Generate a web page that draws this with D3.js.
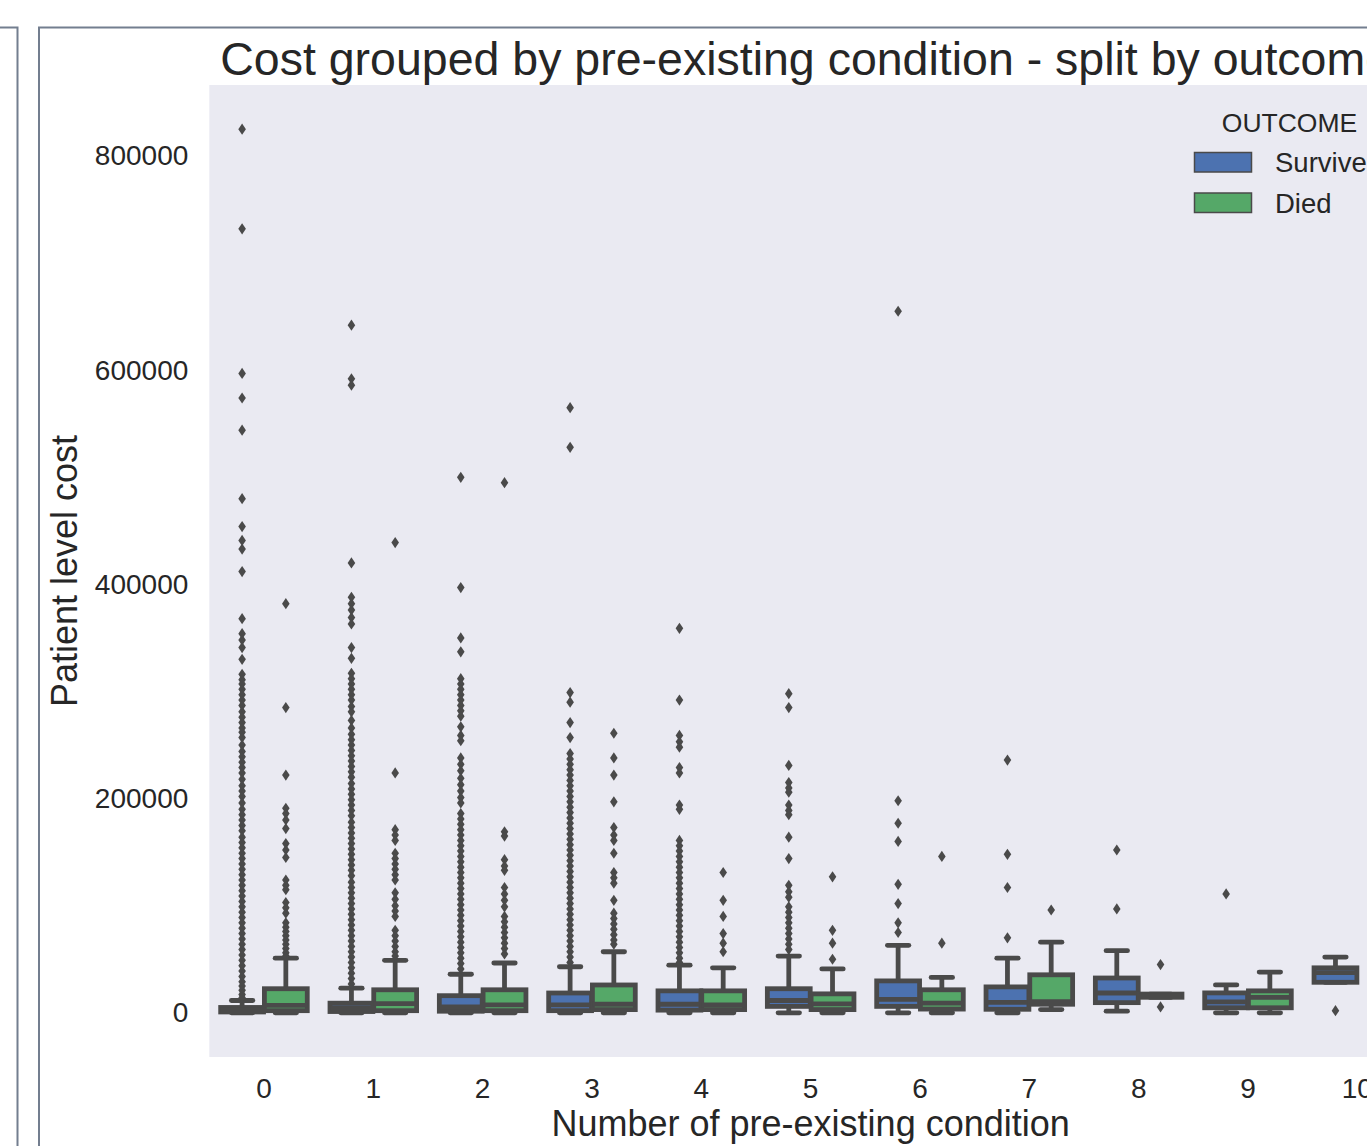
<!DOCTYPE html>
<html>
<head>
<meta charset="utf-8">
<script src="https://cdn.jsdelivr.net/npm/d3@7"></script>
<style>
  html, body { margin: 0; padding: 0; background: #ffffff; overflow: hidden; }
  svg { display: block; font-family: "Liberation Sans", Arial, Helvetica, sans-serif; }
</style>
</head>
<body>
<svg id="chart" width="1367" height="1146"></svg>
<script>
// ---------------- DATA ----------------
const categories = ["0","1","2","3","4","5","6","7","8","9","10"];
const outcomes = ["Survived", "Died"];
const outcomeColors = ["#4C72B0", "#55A868"];
const yTicks = [0, 200000, 400000, 600000, 800000];

const survivedQ1          = [800, 1200, 1500, 2000, 2500, 6000, 6000, 3300, 9500, 4700, 28500];
const survivedMedian      = [2500, 4500, 5500, 7500, 8000, 11500, 12600, 9800, 18500, 10300, 37500];
const survivedQ3          = [5000, 9000, 16000, 18500, 20500, 22500, 29800, 24200, 32500, 18600, 42000];
const survivedWhiskerLow  = [0, 0, 0, 0, 0, 0, 0, 0, 1500, 0, 28500];
const survivedWhiskerHigh = [11500, 23000, 36000, 43000, 44500, 53000, 63000, 51000, 58000, 26000, 52000];

const diedQ1          = [2000, 2000, 2000, 3000, 3000, 3000, 3500, 8000, 14500, 4700, null];
const diedMedian      = [7000, 8500, 7500, 8000, 7500, 8400, 9000, 10500, 16000, 14500, null];
const diedQ3          = [22500, 21500, 21500, 26000, 20500, 17700, 21500, 35500, 17500, 20500, null];
const diedWhiskerLow  = [0, 0, 0, 0, 0, 0, 0, 3000, 14500, 0, null];
const diedWhiskerHigh = [51000, 49000, 46500, 57000, 42000, 41000, 33000, 66000, 17500, 38000, null];

const survivedOutliers = [
  [825000, 732000, 597000, 574000, 544000, 480000, 454000, 441000, 433000, 412000, 368000, 354000, 348000, 341000, 330000,
   316000, 311000, 307000, 302000, 297000, 292000, 287000, 281000, 276000, 271000, 266000, 262000, 257000, 250000, 244000,
   239000, 234000, 229000, 224000, 218000, 212000, 207000, 202000, 196000, 190000, 185000, 180000, 175000, 170000, 164000,
   159000, 154000, 149000, 144000, 139000, 134000, 129000, 124000, 119000, 114000, 109000, 104000, 99000, 94000, 89000,
   84000, 79000, 74000, 69000, 64000, 59000, 54000, 49000, 44000, 39000, 34000, 29000, 25000, 21000, 17000, 14000],
  [642000, 592000, 586000, 420000, 388000, 382000, 376000, 369000, 363000, 341000, 331000, 317000, 312000, 307000, 302000,
   297000, 292000, 286000, 281000, 273000, 266000, 260000, 255000, 250000, 245000, 240000, 235000, 230000, 225000, 220000,
   214000, 209000, 204000, 199000, 194000, 189000, 184000, 178000, 173000, 168000, 163000, 158000, 153000, 148000, 143000,
   138000, 133000, 128000, 122000, 117000, 112000, 107000, 102000, 97000, 92000, 87000, 82000, 77000, 72000, 67000,
   62000, 57000, 52000, 47000, 42000, 37000, 32000, 27000],
  [500000, 397000, 350000, 337000, 312000, 307000, 302000, 297000, 292000, 287000, 282000, 277000, 267000, 259000, 254000,
   238000, 232000, 226000, 219000, 213000, 207000, 201000, 196000, 186000, 181000, 176000, 171000, 166000, 161000, 156000,
   151000, 146000, 141000, 136000, 131000, 126000, 121000, 116000, 111000, 106000, 101000, 96000, 91000, 86000, 81000,
   76000, 71000, 66000, 61000, 56000, 51000, 46000, 41000],
  [565000, 528000, 299000, 290000, 271000, 257000, 242000, 237000, 232000, 227000, 222000, 217000, 212000, 207000, 202000,
   197000, 192000, 187000, 182000, 177000, 172000, 167000, 162000, 157000, 152000, 147000, 142000, 137000, 132000, 127000,
   122000, 117000, 112000, 107000, 102000, 97000, 92000, 87000, 82000, 77000, 72000, 67000, 62000, 57000, 52000, 47000],
  [359000, 292000, 259000, 253000, 248000, 229000, 224000, 194000, 190000, 161000, 156000, 151000, 146000, 141000, 136000,
   131000, 126000, 121000, 116000, 111000, 106000, 101000, 96000, 91000, 86000, 81000, 76000, 71000, 66000, 61000,
   56000, 51000, 47000],
  [298000, 285000, 231000, 215000, 210000, 206000, 194000, 189000, 185000, 164000, 144000, 119000, 113000, 108000, 99000,
   94000, 89000, 84000, 79000, 74000, 69000, 64000, 59000],
  [655000, 198000, 177000, 160000, 120000, 102000, 84000, 75000],
  [236000, 148000, 117000, 70000],
  [152000, 97000],
  [111000],
  [2000]
];

const diedOutliers = [
  [382000, 285000, 222000, 191000, 186000, 180000, 172000, 158000, 152000, 145000, 124000, 119000, 115000, 103000, 98000,
   93000, 84000, 80000, 76000, 72000, 68000, 64000, 60000, 56000, 53000],
  [439000, 224000, 171000, 166000, 161000, 149000, 144000, 139000, 134000, 129000, 124000, 112000, 106000, 100000, 95000,
   90000, 77000, 72000, 67000, 62000, 57000, 53000],
  [495000, 169000, 165000, 143000, 137000, 133000, 117000, 111000, 105000, 99000, 90000, 85000, 80000, 75000, 70000,
   65000, 60000, 55000],
  [261000, 238000, 222000, 197000, 173000, 166000, 161000, 149000, 131000, 126000, 121000, 105000, 93000, 88000, 83000,
   78000, 73000, 68000, 64000],
  [131000, 105000, 90000, 74000, 65000, 57000],
  [127000, 77000, 65000, 50000],
  [146000, 65000],
  [96000],
  [45000, 5500],
  [],
  []
];

// ---------------- LAYOUT ----------------
const plot = { left: 209.3, right: 1412, top: 85, bottom: 1057 };
const lineColor = "#4a4a4a";
const textColor = "#262626";
const lw = 4.8;

const svg = d3.select("#chart");

// page frames
const frameColor = "#737e8f";
svg.append("path")
  .attr("d", "M-5,27.5 L17.5,27.5 L17.5,1200")
  .attr("fill", "none").attr("stroke", frameColor).attr("stroke-width", 2);
svg.append("path")
  .attr("d", "M39,1200 L39,27.5 L1500,27.5")
  .attr("fill", "none").attr("stroke", frameColor).attr("stroke-width", 2);

// scales
const x = d3.scaleBand().domain(categories).range([plot.left, plot.right]).paddingInner(0).paddingOuter(0);
const xSub = d3.scaleBand().domain(outcomes).range([x.bandwidth() * 0.1, x.bandwidth() * 0.9]).paddingInner(0);
const y = d3.scaleLinear().domain([-41250, 866250]).range([plot.bottom, plot.top]);

// background
svg.append("rect")
  .attr("x", plot.left).attr("y", plot.top)
  .attr("width", plot.right - plot.left).attr("height", plot.bottom - plot.top)
  .attr("fill", "#EAEAF2");

// axes
const yAxis = d3.axisLeft(y).tickValues(yTicks).tickSize(0).tickPadding(21).tickFormat(d3.format("d"));
const gy = svg.append("g").attr("transform", `translate(${plot.left},0)`).call(yAxis);
gy.select(".domain").remove();
gy.selectAll("text").attr("font-size", 28).attr("fill", textColor)
  .attr("font-family", "'Liberation Sans', Arial, sans-serif");

const xAxis = d3.axisBottom(x).tickSize(0).tickPadding(21);
const gx = svg.append("g").attr("transform", `translate(0,${plot.bottom})`).call(xAxis);
gx.select(".domain").remove();
gx.selectAll("text").attr("font-size", 28).attr("fill", textColor)
  .attr("font-family", "'Liberation Sans', Arial, sans-serif");

// build box records from named arrays
const series = [
  { name: "Survived", color: outcomeColors[0], q1: survivedQ1, med: survivedMedian, q3: survivedQ3,
    lo: survivedWhiskerLow, hi: survivedWhiskerHigh, out: survivedOutliers },
  { name: "Died", color: outcomeColors[1], q1: diedQ1, med: diedMedian, q3: diedQ3,
    lo: diedWhiskerLow, hi: diedWhiskerHigh, out: diedOutliers }
];

const boxes = [];
series.forEach(s => {
  categories.forEach((c, i) => {
    if (s.q1[i] == null) return;
    boxes.push({ cat: c, outcome: s.name, color: s.color, q1: s.q1[i], med: s.med[i], q3: s.q3[i],
      lo: s.lo[i], hi: s.hi[i], out: s.out[i] });
  });
});

const bw = xSub.bandwidth() * 0.98;
const capW = bw / 2;
const g = svg.append("g");

boxes.forEach(b => {
  const cx = x(b.cat) + xSub(b.outcome) + xSub.bandwidth() / 2;
  const gb = g.append("g");
  // whiskers
  gb.append("line").attr("x1", cx).attr("x2", cx).attr("y1", y(b.q3)).attr("y2", y(b.hi))
    .attr("stroke", lineColor).attr("stroke-width", lw);
  gb.append("line").attr("x1", cx).attr("x2", cx).attr("y1", y(b.q1)).attr("y2", y(b.lo))
    .attr("stroke", lineColor).attr("stroke-width", lw);
  // caps
  [b.hi, b.lo].forEach(v => {
    gb.append("line").attr("x1", cx - capW / 2).attr("x2", cx + capW / 2).attr("y1", y(v)).attr("y2", y(v))
      .attr("stroke", lineColor).attr("stroke-width", lw).attr("stroke-linecap", "round");
  });
  // box
  gb.append("rect")
    .attr("x", cx - bw / 2).attr("width", bw)
    .attr("y", y(b.q3)).attr("height", Math.max(0, y(b.q1) - y(b.q3)))
    .attr("fill", b.color).attr("stroke", lineColor).attr("stroke-width", lw);
  // median
  gb.append("line").attr("x1", cx - bw / 2).attr("x2", cx + bw / 2).attr("y1", y(b.med)).attr("y2", y(b.med))
    .attr("stroke", lineColor).attr("stroke-width", lw);
  // outliers (thin diamonds)
  gb.selectAll("path.flier").data(b.out).enter().append("path")
    .attr("class", "flier")
    .attr("d", "M0,-5.6L3.8,0L0,5.6L-3.8,0Z")
    .attr("transform", d => `translate(${cx},${y(d)})`)
    .attr("fill", lineColor);
});

// title
svg.append("text")
  .attr("x", (plot.left + plot.right) / 2 - 5).attr("y", 75)
  .attr("text-anchor", "middle").attr("font-size", 46.5).attr("fill", textColor)
  .text("Cost grouped by pre-existing condition - split by outcome");

// axis labels
svg.append("text")
  .attr("x", (plot.left + plot.right) / 2).attr("y", 1136)
  .attr("text-anchor", "middle").attr("font-size", 36).attr("fill", textColor)
  .text("Number of pre-existing condition");
svg.append("text")
  .attr("transform", `translate(77,${(plot.top + plot.bottom) / 2}) rotate(-90)`)
  .attr("text-anchor", "middle").attr("font-size", 36).attr("fill", textColor)
  .text("Patient level cost");

// legend
const lg = svg.append("g");
lg.append("text").attr("x", 1289.5).attr("y", 131.5).attr("text-anchor", "middle")
  .attr("font-size", 26.5).attr("fill", textColor).text("OUTCOME");
outcomes.forEach((o, i) => {
  lg.append("rect").attr("x", 1194.5).attr("y", 152.5 + i * 40.5).attr("width", 57).attr("height", 19.5)
    .attr("fill", outcomeColors[i]).attr("stroke", lineColor).attr("stroke-width", 1.5);
  lg.append("text").attr("x", 1275).attr("y", 172 + i * 41).attr("font-size", 27.5).attr("fill", textColor).text(o);
});
</script>
</body>
</html>
